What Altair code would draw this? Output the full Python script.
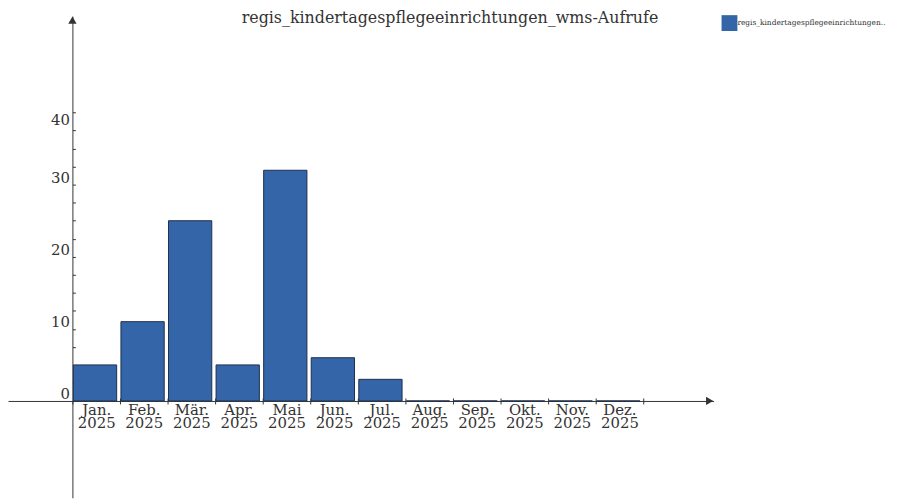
import json
import altair as alt
import pandas as pd

# ---- data ----
title_text = "regis_kindertagespflegeeinrichtungen_wms-Aufrufe"
series_name = "regis_kindertagespflegeeinrichtungen_wms-Aufrufe"
months = ["Jan.", "Feb.", "Mär.", "Apr.", "Mai", "Jun.", "Jul.", "Aug.", "Sep.", "Okt.", "Nov.", "Dez."]
year = "2025"
values = [5, 11, 25, 5, 32, 6, 3, 0, 0, 0, 0, 0]
y_label_values = [0, 10, 20, 30, 40]
y_minor_step = 2.5

# ---- layout (pixels) ----
PLOT_W = 712
PLOT_H = 486
X_ZERO_PX = 65          # y-axis position from plot left
Y_ZERO_PX = 388.3       # x-axis position from plot top
PX_PER_MONTH = 48
PX_PER_UNIT = 7.275

x_dom = [-X_ZERO_PX / PX_PER_MONTH, (PLOT_W - X_ZERO_PX) / PX_PER_MONTH]
y_dom = [-(PLOT_H - Y_ZERO_PX) / PX_PER_UNIT, Y_ZERO_PX / PX_PER_UNIT]

FONT = "DejaVu Serif"
INK = "#333333"
BAR = "#3465a8"
BAR_EDGE = "#1f2f4d"

df = pd.DataFrame({
    "idx": list(range(len(months))),
    "month": months,
    "value": values,
    "series": [series_name] * len(months),
})

xs = alt.Scale(domain=x_dom, nice=False, zero=False)
ys = alt.Scale(domain=y_dom, nice=False, zero=False)

months_js = json.dumps(months, ensure_ascii=False)
x_label_expr = (
    f"datum.value < {len(months)} ? [{months_js}[datum.value], '{year}'] : ''"
)
top_test = f"datum.value == {y_label_values[-1]}"

x_axis_main = alt.Axis(
    orient="bottom", offset=-(PLOT_H - Y_ZERO_PX),
    values=list(range(len(months) + 1)), labelExpr=x_label_expr,
    labelOffset=PX_PER_MONTH / 2, labelFont=FONT, labelFontSize=15,
    labelColor=INK, labelBaseline="top", labelLineHeight=12.5,
    labelPadding=-1, labelOverlap=False, labelFlush=False, labelBound=False,
    tickSize=3, tickColor=INK, domainColor=INK, grid=False, title=None,
)
y_axis_main = alt.Axis(
    orient="left", offset=-X_ZERO_PX, values=y_label_values,
    labelFont=FONT, labelFontSize=15, labelColor=INK, labelPadding=3,
    labelBaseline={"condition": {"test": top_test, "value": "top"}, "value": "alphabetic"},
    labelOffset={"condition": {"test": top_test, "value": 0}, "value": -2.5},
    labelOverlap=False, labelFlush=False, labelBound=False,
    tickSize=0, domainColor=INK, grid=False, title=None,
)

bars = alt.Chart(df).mark_bar(stroke=BAR_EDGE, strokeWidth=1).transform_calculate(
    x0="datum.idx + 0.02", x1="datum.idx + 0.93"
).encode(
    x=alt.X("x0:Q", scale=xs, axis=x_axis_main),
    x2="x1:Q",
    y=alt.Y("value:Q", scale=ys, axis=y_axis_main),
    y2=alt.datum(0),
    color=alt.Color(
        "series:N", scale=alt.Scale(range=[BAR]),
        legend=alt.Legend(
            orient="none", legendX=PLOT_W + 8, legendY=-1, title=None,
            symbolType="square", symbolSize=256, symbolStrokeWidth=0,
            labelFont=FONT, labelFontSize=7.5, labelColor=INK, labelOffset=0,
            labelExpr="slice(datum.label, 0, 36) + '..'", padding=0, labelLimit=300,
        ),
    ),
)

# tick-only axes pointing inward (right of y axis, crossing x axis)
ticks = alt.Chart(df).mark_point(opacity=0).encode(
    x=alt.X("idx:Q", scale=xs, axis=alt.Axis(
        orient="top", offset=-Y_ZERO_PX, values=list(range(1, len(months) + 1)),
        labels=False, domain=False, tickSize=3, tickColor=INK, grid=False, title=None)),
    y=alt.Y("value:Q", scale=ys, axis=alt.Axis(
        orient="right", offset=-(PLOT_W - X_ZERO_PX),
        values=[i * y_minor_step for i in range(int(y_label_values[-1] / y_minor_step) + 1)],
        labels=False, domain=False, tickSize=3, tickColor=INK, grid=False, title=None)),
)

arrow_df = pd.DataFrame({"ax": [x_dom[1], 0.0], "ay": [0.0, y_dom[1]],
                         "shape": ["triangle-right", "triangle-up"]})
arrow_x = alt.Chart(arrow_df).transform_filter("datum.shape == 'triangle-right'").mark_point(
    shape="triangle-right", filled=True, color=INK, size=70, opacity=1, xOffset=-4
).encode(x=alt.X("ax:Q", scale=xs, axis=None), y=alt.Y("ay:Q", scale=ys, axis=None))
arrow_y = alt.Chart(arrow_df).transform_filter("datum.shape == 'triangle-up'").mark_point(
    shape="triangle-up", filled=True, color=INK, size=70, opacity=1, yOffset=4
).encode(x=alt.X("ax:Q", scale=xs, axis=None), y=alt.Y("ay:Q", scale=ys, axis=None))

chart = alt.layer(bars, ticks, arrow_x, arrow_y).resolve_axis(
    x="independent", y="independent"
).properties(
    width=PLOT_W, height=PLOT_H,
    title=alt.TitleParams(title_text, font=FONT, fontSize=16, fontWeight="normal",
                          color=INK, anchor="middle", frame="group",
                          baseline="alphabetic", offset=0, dx=90, dy=23.5),
    autosize=alt.AutoSizeParams(type="none"),
    padding={"left": 0, "top": 6, "right": 180, "bottom": 0},
).configure_view(stroke=None)

chart.save("out.html", embed_options={"renderer": "svg", "actions": False})
